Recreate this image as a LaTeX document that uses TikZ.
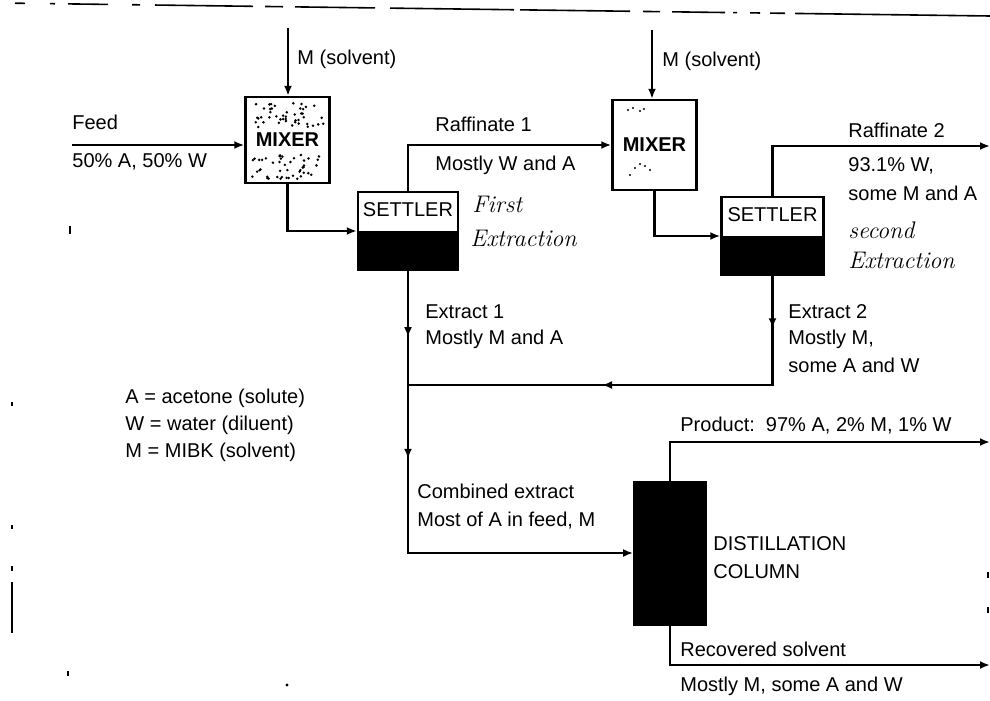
\documentclass[tikz,border=0pt]{standalone}
\usepackage{fontspec}
\newfontfamily\labelfont{Liberation Sans}
\usetikzlibrary{arrows.meta,decorations.markings}

\tikzset{
  pipe/.style={line width=1.1pt},
  flow/.style={pipe,-{Latex[length=5pt,width=4pt]}},
  tips/.style 2 args={postaction={decorate},decoration={markings,
      mark=at position #1 with {\arrow{Latex[length=5pt,width=4pt]}},
      mark=at position #2 with {\arrow{Latex[length=5pt,width=4pt]}}}},
  mixer/.style={draw,line width=1.2pt,minimum width=42pt,minimum height=43pt,
      inner sep=0pt,font=\labelfont\bfseries},
  settler/.style={draw,line width=1.2pt,minimum width=50pt,minimum height=39pt,inner sep=0pt,
      path picture={\fill (path picture bounding box.west) rectangle (path picture bounding box.south east);}},
  column/.style={draw,fill,minimum width=36.5pt,minimum height=72pt},
  lbl/.style={anchor=base west,inner sep=0pt},
  hand/.style={anchor=base west,inner sep=0pt,font=\rmfamily\itshape\large},
}

\begin{document}
\begin{tikzpicture}[x=0.5pt,y=-0.5pt,font=\labelfont]
  \useasboundingbox (0,0) rectangle (990,701);

  % broken rule along the top edge
  \foreach \a/\b in {15/25,50/55,68/108,132/140,155/253,265/283,295/375,390/514,
                     520/630,643/660,672/725,733/737,750/760,770/785,795/990}
    \draw[line width=0.8pt] (\a,{3+13*\a/990}) -- (\b,{3+13*\b/990});

  % stray marks of the scan
  \foreach \x/\ya/\yb in {12/402/406,12/525/529,12/566/571,12/582/633,68/671/676,70/226/234,988/572/578,988/607/613}
    \draw[line width=0.9pt] (\x,\ya) -- (\x,\yb);
  \fill (287,685) circle (0.8pt);

  % units
  \node[mixer] (mixA) at (287.5,140) {MIXER};
  \node[settler] (setA) at (408,231) {};
  \node (setAtxt) at ([yshift=-9.5pt]setA.north) {SETTLER};
  \node[mixer,minimum height=45pt] (mixB) at (654.5,145) {MIXER};
  \node[settler,minimum width=51pt] (setB) at (772.5,236) {};
  \node (setBtxt) at ([yshift=-9.5pt]setB.north) {SETTLER};
  \node[column] (col) at (670,553) {};

  % speckle in the mixers
  \pgfmathsetseed{5}
  \foreach \i in {1,...,45}
    \fill ({252+72*rnd},{103+24*rnd}) circle (0.7pt);
  \foreach \i in {1,...,45}
    \fill ({252+72*rnd},{155+24*rnd}) circle (0.7pt);
  \foreach \x/\y in {628/110,633/108,640/111,644/109,635/168,640/164,645/166,630/175,650/170}
    \fill (\x,\y) circle (0.6pt);

  % free ends of the streams
  \coordinate (feedin) at (72,145);
  \coordinate (solA) at (288,28);
  \coordinate (solB) at (652,30);
  \coordinate (jn) at (408,385);
  \coordinate (raf2) at (990,146);
  \coordinate (prod) at (990,442);
  \coordinate (rec) at (990,665);

  % streams
  \draw[flow] (feedin) -- (feedin -| mixA.west);
  \draw[flow] (solA) -- (solA |- mixA.north);
  \draw[flow] (mixA.south) |- (setA.west);
  \draw[flow] (setA.north) |- (mixB.west);
  \draw[flow] (solB) -- (solB |- mixB.north);
  \draw[flow] (mixB.south) |- (setB.west);
  \draw[flow] (setB.north) |- (raf2);
  \draw[flow,tips={0.13}{0.37}] (setA.south) -- (jn) |- (col.west);
  \draw[pipe,tips={0.11}{0.59}] (setB.south) |- (jn);
  \draw[flow] (col.north) |- (prod);
  \draw[flow] (col.south) |- (rec);

  % stream labels
  \node[lbl] (tFeed) at (72,129) {Feed};
  \node[lbl] (tFeedc) at (72,168) {50\% A, 50\% W};
  \node[lbl] (tSolA) at (297,65) {M (solvent)};
  \node[lbl] (tSolB) at (662,67) {M (solvent)};
  \node[lbl] (tRafA) at (435,132) {Raffinate 1};
  \node[lbl] (tRafAc) at (435,170) {Mostly W and A};
  \node[lbl] (tRafB) at (848,138) {Raffinate 2};
  \node[lbl] (tRafBc) at (848,171) {93.1\% W,};
  \node[lbl] (tRafBd) at (848,200) {some M and A};
  \node[lbl] (tExA) at (425,318) {Extract 1};
  \node[lbl] (tExAc) at (425,344) {Mostly M and A};
  \node[lbl] (tExB) at (788,318) {Extract 2};
  \node[lbl] (tExBc) at (788,344) {Mostly M,};
  \node[lbl] (tExBd) at (788,372) {some A and W};
  \node[lbl] (tComb) at (417,498) {Combined extract};
  \node[lbl] (tCombc) at (417,526) {Most of A in feed, M};
  \node[lbl] (tProd) at (680,431) {Product:\ \ 97\% A, 2\% M, 1\% W};
  \node[lbl] (tDist) at (713,550) {DISTILLATION};
  \node[lbl] (tDistc) at (713,578) {COLUMN};
  \node[lbl] (tRec) at (680,656) {Recovered solvent};
  \node[lbl] (tRecc) at (680,691) {Mostly M, some A and W};

  % key
  \node[lbl] (keyA) at (125,403) {A = acetone (solute)};
  \node[lbl] (keyW) at (125,430) {W = water (diluent)};
  \node[lbl] (keyM) at (125,457) {M = MIBK (solvent)};

  % pencil notes
  \node[hand] (hFirst) at (472,212) {First};
  \node[hand] (hExA) at (470,246) {Extraction};
  \node[hand] (hSec) at (848,238) {second};
  \node[hand] (hExB) at (848,268) {Extraction};
\end{tikzpicture}
\end{document}
